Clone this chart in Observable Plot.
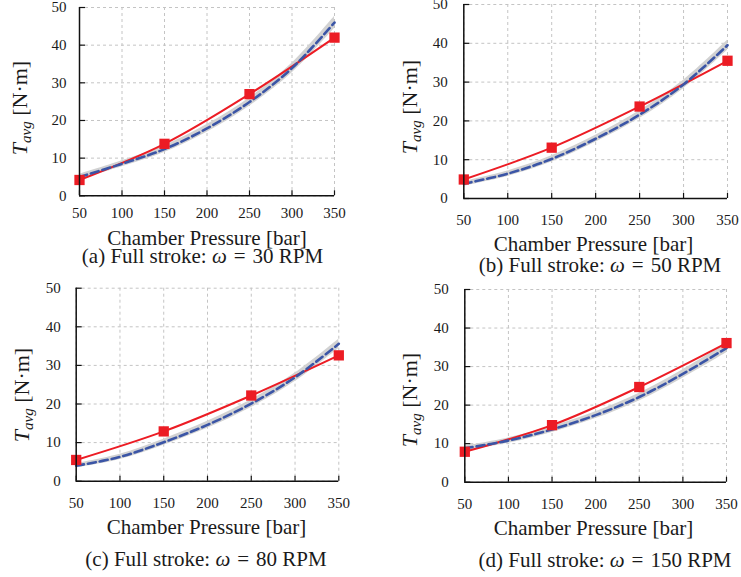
<!DOCTYPE html>
<html>
<head>
<meta charset="utf-8">
<script src="https://cdn.jsdelivr.net/npm/d3@7"></script>
<script src="https://cdn.jsdelivr.net/npm/@observablehq/plot@0.6"></script>
<style>
  html, body { margin: 0; padding: 0; background: #fff; }
  #root { position: relative; width: 741px; height: 577px; overflow: hidden; font-family: "Liberation Serif", "Times New Roman", serif; color: #1a1a1a; }
  .panel { position: absolute; }
  .panel svg { overflow: visible; font-family: "Liberation Serif", "Times New Roman", serif; }
  .xlab, .cap { position: absolute; width: 360px; text-align: center; font-size: 21px; line-height: 18px; height: 18px; white-space: nowrap; }
  .ylab { position: absolute; font-size: 22px; line-height: 22px; white-space: nowrap; transform: translate(-50%, -50%) rotate(-90deg); }
  .ylab sub { font-size: 15px; vertical-align: -4px; line-height: 0; }
  .sp { display: inline-block; width: 7px; }
</style>
</head>
<body>
<div id="root"></div>
<script>
// ---- data ----
const expPressure = [50, 150, 250, 350];
const fitPressure = [50, 100, 150, 200, 250, 300, 350];
const xTicks = [50, 100, 150, 200, 250, 300, 350];
const yTicks = [0, 10, 20, 30, 40, 50];

const expA = [4.2, 13.8, 27.0, 42.0];
const fitA = [5.0, 8.5, 12.4, 17.9, 24.9, 33.9, 46.0];
const bandA = [0.7, 0.8, 0.9, 1.0, 1.1, 1.3, 1.6];

const expB = [4.9, 13.1, 23.7, 35.5];
const fitB = [3.8, 6.4, 10.2, 15.4, 21.6, 29.4, 39.5];
const bandB = [0.6, 0.7, 0.8, 0.9, 1.0, 1.1, 1.3];

const expC = [5.5, 12.9, 22.2, 32.6];
const fitC = [4.0, 6.3, 10.1, 14.6, 20.1, 26.9, 35.6];
const bandC = [0.6, 0.7, 0.8, 0.9, 1.0, 1.1, 1.2];

const expD = [7.9, 14.8, 24.7, 36.1];
const fitD = [8.8, 10.8, 13.7, 17.4, 22.1, 28.1, 34.8];
const bandD = [0.6, 0.7, 0.8, 0.9, 1.0, 1.1, 1.2];

const captions = ["(a)", "(b)", "(c)", "(d)"];
const speeds = [30, 50, 80, 150];

// ---- layout (pixel geometry of each panel) ----
const panels = [
  {exp: expA, fit: fitA, band: bandA, left: 0,   top: 0,   width: 370, height: 230, ml: 79,   mr: 36,   mt: 7,   mb: 34.7, xpad: 12, ypad: 13,
   xlab: [207, 245], cap: [202.5, 263], ylab: [20, 108]},
  {exp: expB, fit: fitB, band: bandB, left: 370, top: 0,   width: 371, height: 230, ml: 93.3, mr: 14,   mt: 4,   mb: 32,   xpad: 16, ypad: 16,
   xlab: [593.5, 251], cap: [600, 272], ylab: [410, 107]},
  {exp: expC, fit: fitC, band: bandC, left: 0,   top: 285, width: 370, height: 230, ml: 75.7, mr: 31.7, mt: 2.7, mb: 34.3, xpad: 16.5, ypad: 15.5,
   xlab: [206.5, 534], cap: [206, 566], ylab: [22, 395]},
  {exp: expD, fit: fitD, band: bandD, left: 370, top: 285, width: 371, height: 230, ml: 94.3, mr: 15,   mt: 4,   mb: 33.3, xpad: 16, ypad: 16,
   xlab: [593.5, 535], cap: [605, 566.7], ylab: [410, 400]}
];

const RED = "#ec1c24";
const BLUE = "#3b55a6";
const FONT = "Liberation Serif, Times New Roman, serif";
const root = document.getElementById("root");

panels.forEach((p, i) => {
  const expData = expPressure.map((x, j) => ({x, y: p.exp[j]}));
  const fitData = fitPressure.map((x, j) => ({x, y: p.fit[j], lo: p.fit[j] - p.band[j], hi: p.fit[j] + p.band[j]}));

  const chart = Plot.plot({
    width: p.width,
    height: p.height,
    marginLeft: p.ml, marginRight: p.mr, marginTop: p.mt, marginBottom: p.mb,
    style: "font-family: 'Liberation Serif', 'Times New Roman', serif; font-size: 15px; color: #1a1a1a; overflow: visible;",
    x: {domain: [50, 350], label: null},
    y: {domain: [0, 50], label: null},
    marks: [
      Plot.gridX(xTicks, {stroke: "#c4c4c4", strokeOpacity: 1, strokeDasharray: "3,3", strokeWidth: 1}),
      Plot.gridY(yTicks, {stroke: "#c4c4c4", strokeOpacity: 1, strokeDasharray: "3,3", strokeWidth: 1}),
      Plot.areaY(fitData, {x: "x", y1: "lo", y2: "hi", fill: "#d2d2d2", curve: "catmull-rom"}),
      Plot.line(expData, {x: "x", y: "y", stroke: RED, strokeWidth: 2, curve: "catmull-rom"}),
      Plot.line(fitData, {x: "x", y: "y", stroke: BLUE, strokeWidth: 2.6, strokeDasharray: "8,4", curve: "catmull-rom"}),
      Plot.dot(expData, {x: "x", y: "y", symbol: "square", r: 5.8, fill: RED, stroke: "none"}),
      Plot.ruleX([50], {stroke: "#111", strokeWidth: 1.5}),
      Plot.ruleY([0], {stroke: "#111", strokeWidth: 1.5}),
      Plot.axisX({ticks: xTicks, tickSize: -5, tickFormat: () => "", stroke: "#111", strokeWidth: 1.2}),
      Plot.axisY({ticks: yTicks, tickSize: -6, tickFormat: () => "", stroke: "#111", strokeWidth: 1.2}),
      Plot.axisX({ticks: xTicks, tickSize: 0, tickPadding: p.xpad, fontSize: 15, fontFamily: FONT, fill: "#1a1a1a"}),
      Plot.axisY({ticks: yTicks, tickSize: 0, tickPadding: p.ypad, fontSize: 15, fontFamily: FONT, fill: "#1a1a1a"})
    ]
  });

  const wrap = document.createElement("div");
  wrap.className = "panel";
  wrap.style.left = p.left + "px";
  wrap.style.top = p.top + "px";
  wrap.appendChild(chart);
  root.appendChild(wrap);

  // line box 18px with 21px font: baseline sits ~16.1px below the top
  const base = 16.1;
  const xl = document.createElement("div");
  xl.className = "xlab";
  xl.textContent = "Chamber Pressure [bar]";
  xl.style.left = (p.xlab[0] - 180) + "px";
  xl.style.top = (p.xlab[1] - base) + "px";
  root.appendChild(xl);

  const cap = document.createElement("div");
  cap.className = "cap";
  cap.innerHTML = `${captions[i]} Full stroke: <i>ω</i><span class="sp"></span>=<span class="sp"></span>${speeds[i]} RPM`;
  cap.style.left = (p.cap[0] - 180) + "px";
  cap.style.top = (p.cap[1] - base) + "px";
  root.appendChild(cap);

  const yl = document.createElement("div");
  yl.className = "ylab";
  yl.innerHTML = `<i>T</i><sub><i>avg</i></sub> [N·m]`;
  yl.style.left = p.ylab[0] + "px";
  yl.style.top = p.ylab[1] + "px";
  root.appendChild(yl);
});
</script>
</body>
</html>
